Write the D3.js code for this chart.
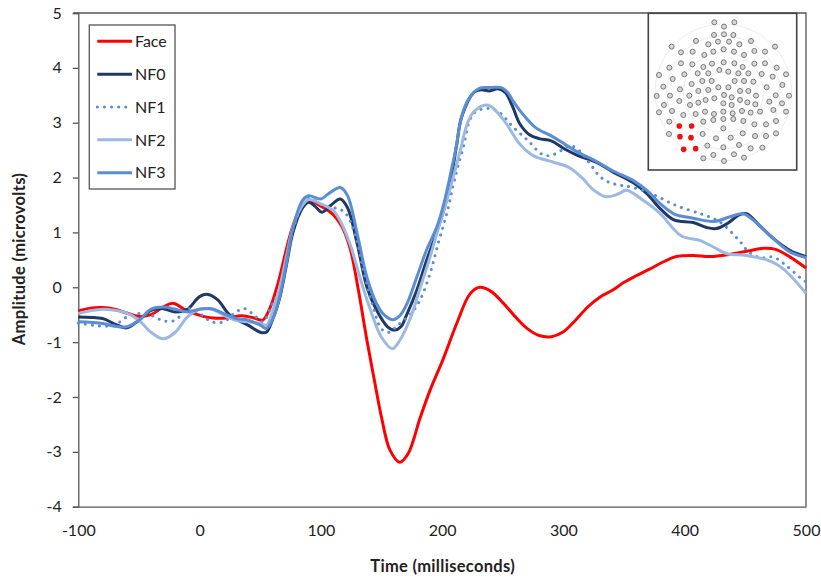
<!DOCTYPE html>
<html>
<head>
<meta charset="utf-8">
<script src="https://cdn.jsdelivr.net/npm/d3@7/dist/d3.min.js"></script>
<style>
    html, body { margin: 0; padding: 0; background: #fff; }
    svg { display: block; }
    text { font-family: Lato, "Open Sans", sans-serif; fill: #222; }
</style>
</head>
<body>
<div id="chart"></div>
<script>
'use strict';

// [milliseconds, microvolts]
const face = [[-100,-.43],[-90,-.38],[-80,-.37],[-70,-.40],[-60,-.47],[-50,-.53],[-40,-.50],[-30,-.36],[-22,-.29],[-11,-.42],[3,-.53],[11,-.56],[22,-.56],[35,-.52],[45,-.56],[52,-.60],[58,-.38],[65,.1],[70,.55],[75,.98],[80,1.3],[85,1.5],[90,1.58],[100,1.48],[110,1.33],[117,1.12],[124,.72],[131,-.06],[138,-.97],[144,-1.68],[150,-2.37],[157,-2.97],[165,-3.19],[172,-3.03],[182,-2.37],[190,-1.88],[201,-1.30],[212,-.66],[223,-.12],[231,0],[240,-.07],[250,-.28],[260,-.53],[270,-.75],[280,-.88],[290,-.9],[300,-.81],[310,-.60],[320,-.36],[330,-.18],[340,-.06],[350,.09],[360,.21],[371,.33],[383,.47],[393,.56],[407,.58],[421,.56],[437,.60],[452,.66],[465,.71],[475,.69],[487,.55],[500,.35]];
const nf0 = [[-100,-.54],[-80,-.57],[-70,-.67],[-60,-.74],[-50,-.60],[-40,-.42],[-30,-.39],[-20,-.45],[-10,-.40],[0,-.17],[7,-.13],[15,-.23],[25,-.51],[40,-.69],[50,-.82],[55,-.82],[60,-.6],[66,-.2],[72,.45],[77,1.0],[85,1.45],[90,1.55],[95,1.48],[101,1.37],[108,1.49],[116,1.61],[122,1.45],[130,.79],[138,0],[146,-.42],[155,-.72],[161,-.78],[166,-.72],[171,-.49],[179,-.06],[187,.48],[194,.91],[202,1.46],[208,2.07],[212,2.6],[216,3.1],[226,3.55],[232,3.6],[239,3.58],[246,3.62],[252,3.55],[258,3.3],[264,2.98],[272,2.78],[280,2.71],[290,2.67],[301,2.52],[312,2.40],[326,2.29],[341,2.10],[358,1.9],[369,1.70],[380,1.43],[391,1.23],[407,1.18],[418,1.09],[426,1.07],[435,1.16],[445,1.32],[451,1.34],[462,1.12],[473,.89],[487,.67],[500,.56]];
const nf1 = [[-100,-.65],[-80,-.71],[-70,-.69],[-60,-.54],[-50,-.48],[-40,-.51],[-30,-.61],[-20,-.6],[-10,-.39],[0,-.48],[10,-.63],[20,-.63],[30,-.45],[37,-.39],[45,-.51],[52,-.63],[60,-.3],[66,-.05],[72,.5],[77,1.05],[85,1.5],[90,1.62],[104,1.47],[116,1.42],[122,1.3],[130,.82],[135,.3],[143,-.35],[150,-.76],[156,-.82],[163,-.7],[174,-.49],[182,-.22],[190,.25],[197,.82],[204,1.36],[209,1.85],[213,2.2],[218,2.6],[222,3.0],[227,3.19],[238,3.26],[247,3.19],[259,2.91],[271,2.67],[282,2.43],[289,2.40],[298,2.49],[306,2.58],[314,2.47],[323,2.22],[330,2.02],[338,1.91],[347,1.86],[357,1.82],[373,1.70],[393,1.49],[413,1.34],[424,1.25],[432,1.14],[445,.85],[453,.64],[462,.54],[473,.55],[484,.39],[496,.16],[500,.1]];
const nf2 = [[-100,-.48],[-90,-.43],[-80,-.40],[-70,-.42],[-60,-.47],[-50,-.60],[-40,-.82],[-30,-.94],[-20,-.82],[-10,-.54],[0,-.40],[10,-.40],[20,-.51],[30,-.6],[40,-.63],[50,-.66],[55,-.69],[60,-.45],[66,0],[72,.6],[77,1.1],[85,1.5],[90,1.6],[100,1.52],[110,1.40],[116,1.21],[124,.79],[133,.12],[141,-.42],[150,-.91],[159,-1.12],[165,-.97],[174,-.55],[182,0],[190,.55],[197,1.09],[203,1.52],[209,2.0],[215,2.5],[221,3.0],[227,3.22],[238,3.32],[250,3.07],[264,2.61],[275,2.40],[292,2.28],[305,2.18],[316,1.98],[324,1.79],[335,1.65],[345,1.70],[352,1.77],[366,1.58],[380,1.34],[397,.94],[413,.85],[424,.73],[435,.61],[451,.58],[470,.48],[481,.34],[500,-.11]];
const nf3 = [[-100,-.63],[-80,-.66],[-70,-.71],[-60,-.72],[-50,-.6],[-40,-.40],[-30,-.36],[-20,-.40],[-10,-.45],[0,-.40],[10,-.39],[20,-.48],[30,-.57],[40,-.60],[50,-.69],[55,-.75],[60,-.6],[66,-.18],[72,.49],[77,1.09],[85,1.59],[90,1.67],[100,1.61],[106,1.70],[116,1.82],[122,1.67],[130,.97],[138,.18],[146,-.30],[152,-.5],[159,-.59],[165,-.52],[171,-.3],[179,.18],[187,.67],[196,1.12],[202,1.58],[208,2.18],[211,2.49],[216,3.1],[221,3.4],[226,3.55],[231,3.63],[240,3.64],[249,3.64],[254,3.55],[259,3.38],[266,3.17],[277,2.91],[290,2.76],[301,2.61],[312,2.46],[326,2.31],[341,2.12],[358,1.94],[369,1.76],[380,1.52],[391,1.34],[407,1.26],[424,1.20],[438,1.29],[448,1.34],[459,1.18],[473,.89],[487,.64],[500,.54]];

const seriesNames = ['Face', 'NF0', 'NF1', 'NF2', 'NF3'];
const seriesData = [face, nf0, nf1, nf2, nf3];
const seriesColors = ['#ff0000', '#1f3864', '#5b8dd6', '#9db9e0', '#5a8dd3'];

const xTicks = [-100, 0, 100, 200, 300, 400, 500];
const yTicks = [-4, -3, -2, -1, 0, 1, 2, 3, 4, 5];

// sensor net inset, positions in inset units
const sensors = [[223,52],[283,52],[252,65],[222,90],[252,88],[280,90],[168,108],[205,118],[234,110],[267,110],[298,118],[333,108],[95,125],[405,125],[123,142],[158,140],[193,150],[220,140],[251,133],[282,140],[312,150],[343,138],[375,140],[88,188],[123,175],[157,178],[190,186],[216,176],[251,172],[283,175],[308,186],[343,176],[375,175],[410,188],[57,210],[98,222],[133,208],[173,205],[205,205],[238,195],[265,200],[295,205],[325,205],[365,207],[398,215],[438,208],[70,245],[155,237],[187,228],[215,228],[235,247],[265,247],[284,228],[312,228],[340,230],[380,247],[427,240],[50,273],[90,272],[120,253],[148,272],[175,258],[205,255],[252,270],[275,277],[300,258],[325,258],[348,272],[407,271],[447,272],[72,300],[118,288],[150,300],[175,293],[197,285],[223,280],[250,295],[275,300],[300,285],[322,292],[346,298],[388,290],[426,295],[57,322],[96,318],[130,330],[167,327],[195,320],[222,327],[250,320],[278,325],[306,318],[332,323],[360,320],[400,315],[438,320],[88,350],[190,350],[220,345],[250,342],[280,342],[310,348],[343,358],[378,358],[408,348],[87,387],[188,387],[250,370],[228,400],[272,398],[308,385],[345,393],[378,393],[408,385],[202,422],[250,427],[297,420],[332,430],[367,428],[190,460],[220,450],[282,448],[312,458],[252,468]];
const activeSensors = [[118,363],[155,363],[120,395],[153,398],[131,433],[167,431]];
const sensorRings = [60, 120, 170, 205];

const width = 821, height = 583;
const plot = { left: 78.3, right: 806, top: 13, bottom: 506.7 };
const axisColor = '#555';
const labelSize = '16px';

const svg = d3.select('#chart').append('svg')
    .attr('width', width)
    .attr('height', height);

const x = d3.scaleLinear().domain([-100, 500]).range([plot.left, plot.right]);
const y = d3.scaleLinear().domain([-4, 5]).range([plot.bottom, plot.top]);

// frame: only top and right, the axes do the rest
svg.append('path')
    .attr('d', d3.line()([[plot.left - 5, plot.top], [plot.right, plot.top], [plot.right, plot.bottom]]))
    .attr('fill', 'none')
    .attr('stroke', axisColor)
    .attr('stroke-width', 1.3);

// plain hyphen on the negatives, as in the original
const tickText = (d) => String(d);

const yAxis = svg.append('g')
    .attr('transform', `translate(${plot.left},0)`)
    .call(d3.axisLeft(y).tickValues(yTicks).tickSize(5.5).tickPadding(11).tickFormat(tickText));
const xAxis = svg.append('g')
    .attr('transform', `translate(0,${plot.bottom})`)
    .call(d3.axisBottom(x).tickValues(xTicks).tickSize(0).tickPadding(18).tickFormat(tickText));

[yAxis, xAxis].forEach((axis) => {
    axis.selectAll('.domain, .tick line').attr('stroke', axisColor).attr('stroke-width', 1.3);
    axis.selectAll('text').style('font-family', 'Lato, sans-serif').style('font-size', labelSize).attr('fill', '#222');
});

// the curves
const line = d3.line()
    .x((d) => x(d[0]))
    .y((d) => y(d[1]))
    .curve(d3.curveCatmullRom.alpha(0.5));

function applyStroke(sel, i) {
    sel.attr('fill', 'none')
        .attr('stroke', seriesColors[i])
        .attr('stroke-width', 3)
        .attr('stroke-linejoin', 'round');
    // NF1 is the dotted one
    if (seriesNames[i] === 'NF1') {
        sel.attr('stroke-dasharray', '0.1 7').attr('stroke-linecap', 'round');
    }
}

seriesData.forEach((d, i) => {
    svg.append('path').attr('d', line(d)).call(applyStroke, i);
});

// legend
const legend = svg.append('g');
legend.append('rect')
    .attr('x', 89.3).attr('y', 25)
    .attr('width', 85.7).attr('height', 164)
    .attr('fill', '#fff')
    .attr('stroke', axisColor)
    .attr('stroke-width', 1.3);

const legendY = d3.scalePoint().domain(seriesNames).range([41.3, 172.7]);
seriesNames.forEach((name, i) => {
    legend.append('line')
        .attr('x1', 97.3).attr('x2', 132)
        .attr('y1', legendY(name)).attr('y2', legendY(name))
        .call(applyStroke, i);
    legend.append('text')
        .attr('x', 135).attr('y', legendY(name))
        .attr('dy', '0.36em')
        .style('font-size', labelSize)
        .text(name);
});

// axis titles
svg.append('text')
    .attr('x', (plot.left + plot.right) / 2 + 0.5).attr('y', 572)
    .attr('text-anchor', 'middle')
    .style('font-size', '16.5px').style('font-weight', 700).style('letter-spacing', '0.3px')
    .text('Time (milliseconds)');
svg.append('text')
    .attr('transform', 'translate(25,259) rotate(-90)')
    .attr('text-anchor', 'middle')
    .style('font-size', '16.5px').style('font-weight', 700).style('letter-spacing', '0.3px')
    .text('Amplitude (microvolts)');

// sensor net inset
const insetX = d3.scaleLinear().domain([25, 470]).range([648.3, 796.7]);
const insetY = d3.scaleLinear().domain([25, 495]).range([13.3, 170]);
const inset = svg.append('g');
inset.append('rect')
    .attr('x', insetX(25)).attr('y', insetY(25))
    .attr('width', insetX(470) - insetX(25)).attr('height', insetY(495) - insetY(25))
    .attr('fill', '#fff')
    .attr('stroke', '#444')
    .attr('stroke-width', 1.6);
inset.selectAll('circle.ring').data(sensorRings).join('circle')
    .attr('class', 'ring')
    .attr('cx', insetX(250)).attr('cy', insetY(262))
    .attr('r', (d) => insetX(d) - insetX(0))
    .attr('fill', 'none')
    .attr('stroke', '#e4e4e4')
    .attr('stroke-width', 0.7);
inset.selectAll('circle.sensor').data(sensors).join('circle')
    .attr('class', 'sensor')
    .attr('cx', (d) => insetX(d[0])).attr('cy', (d) => insetY(d[1]))
    .attr('r', 2.5)
    .attr('fill', '#d8d8d8')
    .attr('stroke', '#787878')
    .attr('stroke-width', 1);
inset.selectAll('circle.active').data(activeSensors).join('circle')
    .attr('class', 'active')
    .attr('cx', (d) => insetX(d[0])).attr('cy', (d) => insetY(d[1]))
    .attr('r', 2.8)
    .attr('fill', '#f01010');
</script>
</body>
</html>
